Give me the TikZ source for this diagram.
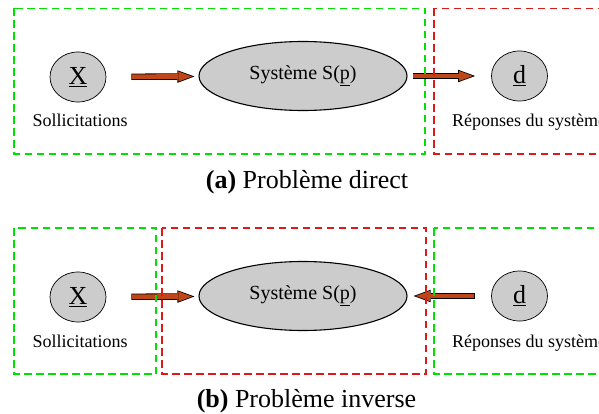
\documentclass[tikz,border=0pt]{standalone}
\usepackage{fontspec}
\setmainfont{Liberation Serif}
\usepackage{tikz}
\usetikzlibrary{shapes.geometric,arrows.meta}

\definecolor{arrowfill}{RGB}{190,70,25}
\definecolor{zonegreen}{RGB}{0,225,0}
\definecolor{zonered}{RGB}{222,25,25}
\definecolor{bodygray}{RGB}{204,204,204}

\begin{document}
\begin{tikzpicture}[
    x=1pt, y=-1pt,
    var/.style={ellipse, draw, fill=bodygray, line width=0.7pt, minimum width=56pt, minimum height=50pt, inner sep=0pt, font=\fontsize{26}{28}\selectfont},
    sysbox/.style={ellipse, draw, fill=bodygray, line width=1.1pt, minimum width=208pt, minimum height=69pt, inner sep=0pt, font=\fontsize{20}{22}\selectfont},
    lbl/.style={inner sep=0pt, font=\fontsize{18}{20}\selectfont},
    capt/.style={inner sep=0pt, font=\fontsize{26}{28}\selectfont},
    zone/.style={dash pattern=on 7.5pt off 4.5pt, line width=1.2pt},
    flow/.style 2 args={draw=arrowfill, line width=4.8pt, shorten <=#1+0.8pt, shorten >=#2+2.3pt,
        -{Triangle[length=13.9pt, width=10.2pt, line width=0pt]},
        preaction={draw=black, line width=6.4pt, shorten <=#1, shorten >=#2,
            -{Triangle[length=17pt, width=12.5pt, line width=0pt]}}}
]
\useasboundingbox (0,0) rectangle (599,414);

% (a) direct problem
\node[var] (xa) at (78,77) {\underline{X}};
\node[sysbox] (sysa) at (303,76) {Système S(\underline{p})};
\node[var] (da) at (519.5,76) {\underline{d}};
\node[lbl, anchor=base] (sola) at (80,127) {Sollicitations};
\node[lbl, anchor=base west] (repa) at (452,127) {Réponses du système};
\node[capt, anchor=base] (capa) at (307,188) {\textbf{(a)} Problème direct};

\draw[flow={25pt}{4pt}] (xa) -- (sysa);
\draw[flow={5pt}{16pt}] (sysa) -- (da);

% (b) inverse problem
\node[var] (xb) at (78,297) {\underline{X}};
\node[sysbox] (sysb) at (303,296) {Système S(\underline{p})};
\node[var] (db) at (519.5,296) {\underline{d}};
\node[lbl, anchor=base] (solb) at (80,347) {Sollicitations};
\node[lbl, anchor=base west] (repb) at (452,347) {Réponses du système};
\node[capt, anchor=base] (capb) at (306.5,407) {\textbf{(b)} Problème inverse};

\draw[flow={25pt}{4pt}] (xb) -- (sysb);
\draw[flow={16pt}{6pt}] (db) -- (sysb);

% zones
\draw[zone, draw=zonegreen] (14,8.5) rectangle (425,154);
\draw[zone, draw=zonered] (434,8.5) rectangle (620,154);
\draw[zone, draw=zonegreen] (14,228) rectangle (156,374);
\draw[zone, draw=zonered] (162,228) rectangle (426,374);
\draw[zone, draw=zonegreen] (434,228) rectangle (620,374);

\end{tikzpicture}
\end{document}
